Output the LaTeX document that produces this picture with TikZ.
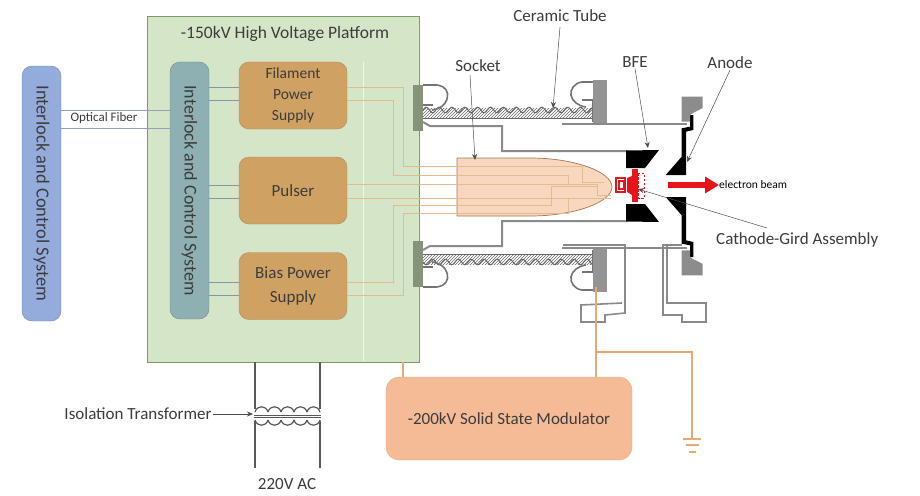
\documentclass[tikz,border=0pt]{standalone}
\usepackage{fontspec}
\setmainfont{Carlito}
\usetikzlibrary{arrows.meta,patterns}

\definecolor{platformgreen}{HTML}{D5E6C8}
\definecolor{platformedge}{HTML}{7C9A66}
\definecolor{sysblue}{HTML}{94ACDC}
\definecolor{systeal}{HTML}{8EB0B2}
\definecolor{supplytan}{HTML}{CFA263}
\definecolor{socketfill}{HTML}{F9D6BE}
\definecolor{modfill}{HTML}{F5BB96}
\definecolor{wireorange}{HTML}{E9A874}
\definecolor{wiretan}{HTML}{E2BC8E}
\definecolor{tubegray}{HTML}{8A8A8A}
\definecolor{beamred}{HTML}{E8141C}
\definecolor{txtgray}{HTML}{3C3C3C}

\tikzset{
    box/.style={draw, rounded corners=10pt, align=center, inner sep=0pt, text=txtgray},
    ctrl/.style={draw=black!25!platformgreen!85!blue, line width=0.8pt},
    wire/.style={draw=wiretan, line width=0.8pt},
    metal/.style={draw=tubegray, line width=2pt},
    callout/.style={text=txtgray, inner sep=1pt, font=\fontsize{17}{19}\selectfont},
    pointer/.style={draw=black!70, line width=0.5pt, -{Stealth[length=6pt,width=5pt]}},
}

% one half of the tube, the other half is its mirror image
\newcommand{\halftube}{
    \fill[pattern=north east lines, pattern color=black!60] (423,108) rectangle (594,118);
    \draw[black!60, line width=1pt] plot[domain=423:594, samples=120] (\x,{110-2.8*sin(28*(\x-423))});
    \draw[black!60, line width=1pt] (423,118) -- (594,118);
    \draw[black!55, line width=1.6pt, rounded corners=1pt] (423,85) -- (437,85)
        .. controls (445,86) and (449,92) .. (447,99)
        .. controls (445,105) and (440,109) .. (432,110);
    \draw[black!55, line width=1.6pt] (423,105) -- (433,105);
    \draw[black!55, line width=1.6pt] (593,82) -- (582,82)
        .. controls (574,83) and (570,90) .. (571,95)
        .. controls (572,101) and (578,106) .. (586,107);
    \draw[black!55, line width=1.6pt] (582,100) -- (593,100) -- (593,122);
    \fill[fill=black!42] (593,80) rectangle (607,123);
    \fill[fill=platformedge!65!black!70] (413,85) rectangle (423,131);
    \draw[metal] (423,122) -- (430,126) -- (502,126) -- (502,151) -- (627,151);
    \draw[metal] (562,124) -- (687,124);
    % focus electrode
    \fill[black] (626,150.5) -- (659,150) -- (645,168) -- (626,168) -- cycle;
    % anode
    \fill[black] (665.7,175) -- (681.7,156.7) -- (681.7,128.3) -- (690,126.7) -- (690,115)
        -- (693.3,115) -- (693.3,130) -- (686,131.7) -- (686,175) -- cycle;
    \fill[black!45] (681.7,96.7) -- (702.7,96.7) -- (702.7,108) -- (693,113) -- (690,115)
        -- (690,121.7) -- (681.7,121.7) -- cycle;
}

\begin{document}
\begin{tikzpicture}[x=1pt,y=-1pt]
\useasboundingbox (0,0) rectangle (920,495);

% boxes on the left
\node[box, draw=platformedge, fill=platformgreen, rounded corners=0pt, minimum width=272pt, minimum height=346pt] (platform) at (283,189) {};
\draw[white!70!platformgreen, line width=0.6pt] (363,62) -- (363,361);
\node[text=txtgray, inner sep=0pt, font=\fontsize{17.5}{19}\selectfont] (platformtext) at (285,34) {-150kV High Voltage Platform};
\node[box, draw=sysblue!80!black, fill=sysblue, rotate=-90, minimum width=255pt, minimum height=39pt, font=\fontsize{18.5}{20}\selectfont] (control) at (41.5,193.5) {Interlock and Control System};
\node[box, draw=systeal!80!black, fill=systeal, rotate=-90, minimum width=257pt, minimum height=39pt, font=\fontsize{18}{20}\selectfont] (interlock) at (189.5,190.5) {Interlock and Control System};
\node[box, draw=supplytan!85!black, fill=supplytan, minimum width=108pt, minimum height=67pt, font=\fontsize{15.5}{21}\selectfont] (filament) at (293,95.5) {Filament\\Power\\Supply};
\node[box, draw=supplytan!85!black, fill=supplytan, minimum width=108pt, minimum height=67pt, font=\fontsize{17}{20}\selectfont] (pulser) at (293,190.5) {Pulser};
\node[box, draw=supplytan!85!black, fill=supplytan, minimum width=108pt, minimum height=67pt, font=\fontsize{17}{24}\selectfont] (bias) at (293,286) {Bias Power\\Supply};

% optical fiber
\foreach \y in {110,128}
    \draw[draw=sysblue!70!black!70, line width=0.6pt] (control.north |- 0,\y) -- (interlock.south |- 0,\y);
\node[text=txtgray, inner sep=1pt, font=\fontsize{13}{15}\selectfont] (fiber) at (104,118.5) {Optical Fiber};

% control lines
\foreach \b/\y in {filament/87,filament/100,pulser/185,pulser/198,bias/282,bias/295}
    \draw[ctrl] (interlock.north |- 0,\y) -- (\b.west |- 0,\y);

% tube
\halftube
\begin{scope}[shift={(0,372)},yscale=-1]
\halftube
\end{scope}
\draw[metal, line width=1.6pt] (563,245) -- (625,245) -- (625,313) -- (605,315) -- (605,322) -- (581,322) -- (581,305) -- (622,303);
\draw[metal, line width=1.6pt] (682,245) -- (663,245) -- (663,315) -- (682,315) -- (682,322) -- (706,322) -- (706,303) -- (667,303) -- (667,245);

% socket
\draw[draw=wireorange!70!black, fill=socketfill, line width=0.7pt] (457,158) -- (530,158) .. controls (575,158) and (612,172) .. (612,187) .. controls (612,202) and (575,216) .. (530,216) -- (457,216) -- cycle;
\coordinate (sockettop) at (475,160);

% wires to socket
\draw[wire] (filament.east |- 0,87) -- (403,87) -- (403,166) -- (582,166) -- (582,182) -- (604,182);
\draw[wire] (filament.east |- 0,100) -- (393,100) -- (393,175) -- (568,175) -- (568,184);
\draw[wire] (pulser.east |- 0,184) -- (597,184) -- (597,195) -- (611,195);
\draw[wire] (pulser.east |- 0,198) -- (611,198);
\draw[wire] (bias.east |- 0,282) -- (393,282) -- (393,205) -- (551,205) -- (551,186) -- (597,186);
\draw[wire] (bias.east |- 0,295) -- (403,295) -- (403,213) -- (568,213) -- (568,199);

% cathode and grid
\fill[beamred] (632,169) rectangle (638,202);
\fill[beamred] (627,178) -- (632,176) -- (632,195) -- (627,192) -- cycle;
\draw[beamred, line width=1.2pt] (616,178) rectangle (625,192);
\draw[beamred, line width=1.2pt] (619,181) rectangle (624,189);
\draw[beamred, line width=1pt, dashed, dash pattern=on 2.5pt off 1.5pt] (638,173) rectangle (644,198);
\coordinate (gridpoint) at (638,189);

% beam
\node[inner sep=0pt, anchor=west, text=black, font=\fontsize{11.5}{13}\selectfont] (beam) at (719,185) {electron beam};
\coordinate (beamstart) at (668,185);
\draw[beamred, line width=6pt, -{Triangle[length=14pt,width=16pt]}] (beamstart) -- (beam.west);

% labels
\node[callout] (tubetext) at (560,16) {Ceramic Tube};
\coordinate (tubepoint) at (553,108);
\draw[pointer] (tubetext.south) ++(0,4) -- (tubepoint);
\node[callout] (sockettext) at (478,66) {Socket};
\draw[pointer] (470,75) -- (sockettop);
\node[callout] (bfetext) at (635,62) {BFE};
\coordinate (bfepoint) at (648,148);
\draw[pointer] (bfetext.south) -- (bfepoint);
\node[callout] (anodetext) at (730,63) {Anode};
\coordinate (anodepoint) at (687,162);
\draw[pointer] (anodetext.south) -- (anodepoint);
\node[callout, anchor=west] (gridtext) at (715,240) {Cathode-Gird Assembly};
\draw[pointer] (767,228) -- (gridpoint);

% modulator
\node[box, draw=wireorange, fill=modfill, minimum width=246pt, minimum height=83pt, rounded corners=13pt, font=\fontsize{17}{19}\selectfont] (modulator) at (509,418.5) {-200kV Solid State Modulator};
\draw[draw=wireorange, line width=1.2pt] (403,362) -- (modulator.north -| 403,0);
\draw[draw=wireorange, line width=1.2pt] (596,287) -- (modulator.north -| 596,0);
\coordinate (ground) at (692,439);
\draw[draw=wireorange, line width=1.2pt] (596,352) -- (692,352) -- (ground);
\foreach \y/\w in {439/9,445/6.5,452/3.5}
    \draw[draw=wireorange, line width=1.2pt] (692-\w,\y) -- (692+\w,\y);

% transformer
\foreach \x in {255,320} {
    \draw[black!65, line width=1.2pt] (\x,362) -- (\x,409);
    \draw[black!65, line width=1.2pt] (\x,421) -- (\x,468);
}
\foreach \i in {0,...,4} {
    \draw[black!65, line width=1.2pt] (255+13*\i,412) .. controls (257+13*\i,405) and (266+13*\i,405) .. (268+13*\i,412);
    \draw[black!65, line width=1.2pt] (255+13*\i,420) .. controls (257+13*\i,427) and (266+13*\i,427) .. (268+13*\i,420);
}
\draw[black!65, line width=0.9pt] (254,415) -- (321,415);
\draw[black!65, line width=0.9pt] (254,417.5) -- (321,417.5);
\node[callout] (isolation) at (138,414) {Isolation Transformer};
\coordinate (corepoint) at (253,414);
\draw[pointer] (isolation.east) -- (corepoint);
\node[callout] (ac) at (287,484) {220V AC};

\end{tikzpicture}
\end{document}
